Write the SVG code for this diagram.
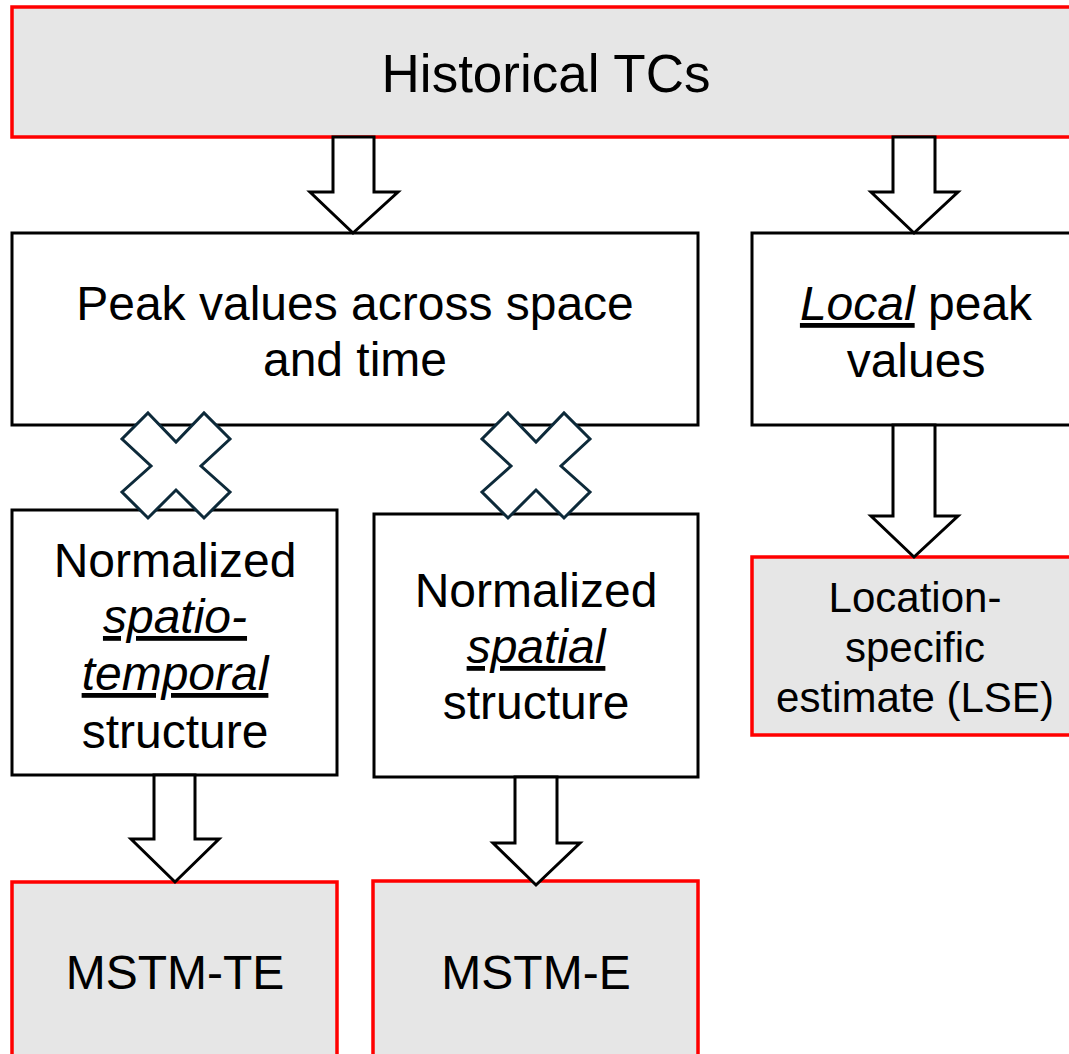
<svg xmlns="http://www.w3.org/2000/svg" width="1069" height="1054" viewBox="0 0 1069 1054">
<style>
.out{fill:#e6e6e6;stroke:#ff0000;stroke-width:3.5}
.mid{fill:#ffffff;stroke:#000000;stroke-width:3}
.arr{fill:#ffffff;stroke:#000000;stroke-width:3;stroke-linejoin:miter}
.x{fill:#ffffff;stroke:#0d2a3a;stroke-width:3;stroke-linejoin:miter}
text{font-family:"Liberation Sans",Arial,sans-serif;fill:#000000;text-anchor:middle}
.t47{font-size:48px}
.t42{font-size:42px}
.t53{font-size:53px}
.em{font-style:italic;text-decoration:underline}
</style>
<rect width="1069" height="1054" fill="#ffffff"/>
<g id="historical">
<rect class="out" x="12" y="7" width="1070" height="130"/>
<text class="t53" x="546" y="92">Historical TCs</text>
</g>
<g id="peak">
<rect class="mid" x="12" y="233" width="686" height="192"/>
<text class="t47" x="355" y="320">Peak values across space</text>
<text class="t47" x="355" y="376">and time</text>
</g>
<g id="local">
<rect class="mid" x="752" y="233" width="330" height="192"/>
<text class="t47" x="916" y="320"><tspan class="em">Local</tspan> peak</text>
<text class="t47" x="916" y="377">values</text>
</g>
<g id="spatiotemporal">
<rect class="mid" x="12" y="510" width="325" height="265"/>
<text class="t47" x="175" y="577">Normalized</text>
<text class="t47" x="175" y="633"><tspan class="em">spatio-</tspan></text>
<text class="t47" x="175" y="690"><tspan class="em">temporal</tspan></text>
<text class="t47" x="175" y="748">structure</text>
</g>
<g id="spatial">
<rect class="mid" x="374" y="514" width="324" height="263"/>
<text class="t47" x="536" y="607">Normalized</text>
<text class="t47" x="536" y="663"><tspan class="em">spatial</tspan></text>
<text class="t47" x="536" y="719">structure</text>
</g>
<g id="lse">
<rect class="out" x="752" y="557" width="330" height="178"/>
<text class="t42" x="915" y="612">Location-</text>
<text class="t42" x="915" y="662">specific</text>
<text class="t42" x="915" y="712">estimate (LSE)</text>
</g>
<g id="mstmte">
<rect class="out" x="12" y="882" width="325" height="190"/>
<text class="t47" x="175" y="989">MSTM-TE</text>
</g>
<g id="mstme">
<rect class="out" x="373" y="881" width="325" height="190"/>
<text class="t47" x="536" y="989">MSTM-E</text>
</g>
<g id="connectors">
<polygon class="arr" points="333,137 374,137 374,192 398,192 353,233 310,192 333,192"/>
<polygon class="arr" points="893,137 935,137 935,192 958,192 914,233 871,192 893,192"/>
<polygon class="arr" points="893,425 935,425 935,516 958,516 914,557 871,516 893,516"/>
<polygon class="arr" points="154,775 195,775 195,839 219,839 175,882 131,839 154,839"/>
<polygon class="arr" points="515,777 557,777 557,843 580,843 536,885 493,843 515,843"/>
<polygon class="x" points="148,413 176,442 204,413 230,439 201,466 230,492 204,518 176,490 148,518 122,492 151,466 122,439"/>
<polygon class="x" points="508,413 536,442 564,413 590,439 561,466 590,492 564,518 536,490 508,518 482,492 511,466 482,439"/>
</g>
</svg>
